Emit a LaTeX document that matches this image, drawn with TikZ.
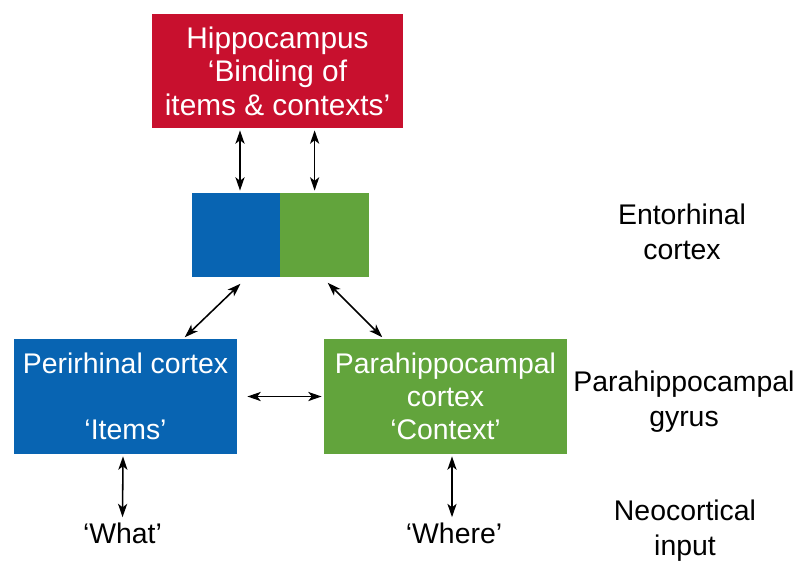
\documentclass[tikz,border=0pt]{standalone}
\usepackage{fontspec}
\setmainfont{Liberation Sans}
\usepackage{tikz}
\usetikzlibrary{arrows.meta, positioning, calc}

\definecolor{hipred}{RGB}{200,16,46}
\definecolor{itemblue}{RGB}{8,100,178}
\definecolor{ctxgreen}{RGB}{98,164,60}

\begin{document}
\begin{tikzpicture}[
    x=0.025cm, y=-0.025cm,
    font=\fontsize{20.2}{23.5}\selectfont,
    area/.style={inner sep=0pt, align=center, text=white},
    label/.style={inner sep=0pt, align=center, text=black,
                  font=\fontsize{20.2}{24.8}\selectfont},
    arr/.style={{Stealth[length=9.5pt,width=6.5pt,inset=2.5pt]}-{Stealth[length=9.5pt,width=6.5pt,inset=2.5pt]},
                line width=1.1pt, shorten <=1.5pt, shorten >=1.5pt}
]
\useasboundingbox[fill=white] (0,0) rectangle (799,560);

%% ---- HIPPOCAMPUS (top) -----------------------------------------
\node[area, fill=hipred, minimum width=251*0.025cm, minimum height=114*0.025cm,
      font=\fontsize{21.2}{23.8}\selectfont]
    (hippo) at (277.5,71) {Hippocampus\\‘Binding of\\items \& contexts’};

%% ---- ENTORHINAL CORTEX -----------------------------------------
\node[area, fill=itemblue, minimum width=88*0.025cm, minimum height=84*0.025cm]
    (entoitems) at (236,235) {};
\node[area, fill=ctxgreen, minimum width=89*0.025cm, minimum height=84*0.025cm,
      right=-0.6pt of entoitems] (entoctx) {};

%% ---- PARAHIPPOCAMPAL GYRUS -------------------------------------
\node[area, fill=itemblue, minimum width=223*0.025cm, minimum height=115*0.025cm]
    (peri) at (125.5,396.5) {Perirhinal cortex\\ \\‘Items’};
\node[area, fill=ctxgreen, minimum width=243*0.025cm, minimum height=115*0.025cm]
    (para) at (445.5,396.5) {Parahippocampal\\cortex\\‘Context’};

%% ---- NEOCORTICAL INPUT -----------------------------------------
\node[label] (what)  at (122.5,533) {‘What’};
\node[label] (where) at (454,533) {‘Where’};

%% ---- connectors ------------------------------------------------
\draw[arr] ([xshift=0.1cm]entoitems.north |- hippo.south) -- ([xshift=0.1cm]entoitems.north);
\draw[arr] ([xshift=-0.24cm]entoctx.north |- hippo.south) -- ([xshift=-0.24cm]entoctx.north);
\draw[arr] ($(entoitems.south)+(6,5)$) -- ($(peri.north east)+(-54,0)$);
\draw[arr] ($(entoctx.south)+(2,4)$) -- ($(para.north west)+(60,0)$);
\draw[arr] ([xshift=0.2cm]peri.east) -- (para.west);
\draw[arr] ($(peri.south)+(-2.5,0)$) -- ($(what.north)+(0,-3)$);
\draw[arr] ([xshift=-0.05cm]where.north |- para.south) -- ($(where.north)+(-2,-3)$);

%% ---- region labels (right column) ------------------------------
\node[label] (entolbl) at (682,232) {Entorhinal\\cortex};
\node[label] (gyrlbl)  at (684,402) {Parahippocampal\\gyrus};
\node[label] (neolbl)  at (685,531) {Neocortical\\input};

\end{tikzpicture}
\end{document}
